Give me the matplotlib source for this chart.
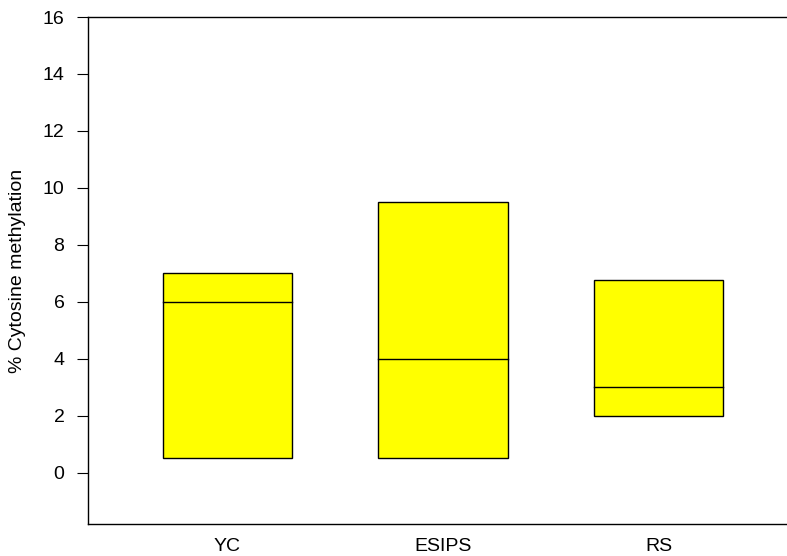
import matplotlib
matplotlib.use("Agg")
import matplotlib.pyplot as plt
from matplotlib.patches import Rectangle

plt.rcParams['font.family'] = ['Liberation Sans', 'DejaVu Sans']

categories = ["YC", "ESIPS", "RS"]
lower = [0.5, 0.5, 2.0]
median = [6.0, 4.0, 3.0]
upper = [7.0, 9.5, 6.75]

fig = plt.figure(figsize=(7.87, 5.56), dpi=100)
ax = fig.add_axes([88 / 787, 1 - 524 / 556, 1 - 88 / 787, (524 - 17) / 556])

width = 0.6
for i, (lo, md, hi) in enumerate(zip(lower, median, upper)):
    x = i + 1
    ax.add_patch(Rectangle((x - width / 2, lo), width, hi - lo,
                           facecolor="#ffff00", edgecolor="black", linewidth=1.0, zorder=2))
    ax.plot([x - width / 2, x + width / 2], [md, md], color="black", linewidth=1.0, zorder=3)

ax.set_xlim(0.353, 3.596)
ax.set_ylim(-1.8, 16)
ax.set_yticks(range(0, 17, 2))
ax.set_xticks([1, 2, 3])
ax.set_xticklabels(categories)
ax.tick_params(axis='x', length=0, pad=10, labelsize=14)
ax.tick_params(axis='y', direction='out', length=8, pad=9, labelsize=14)
ax.spines['right'].set_visible(False)
for s in ['left', 'top', 'bottom']:
    ax.spines[s].set_linewidth(1.0)
ax.set_ylabel("% Cytosine methylation", fontsize=14, labelpad=12)

fig.savefig("out.png", dpi=100)
